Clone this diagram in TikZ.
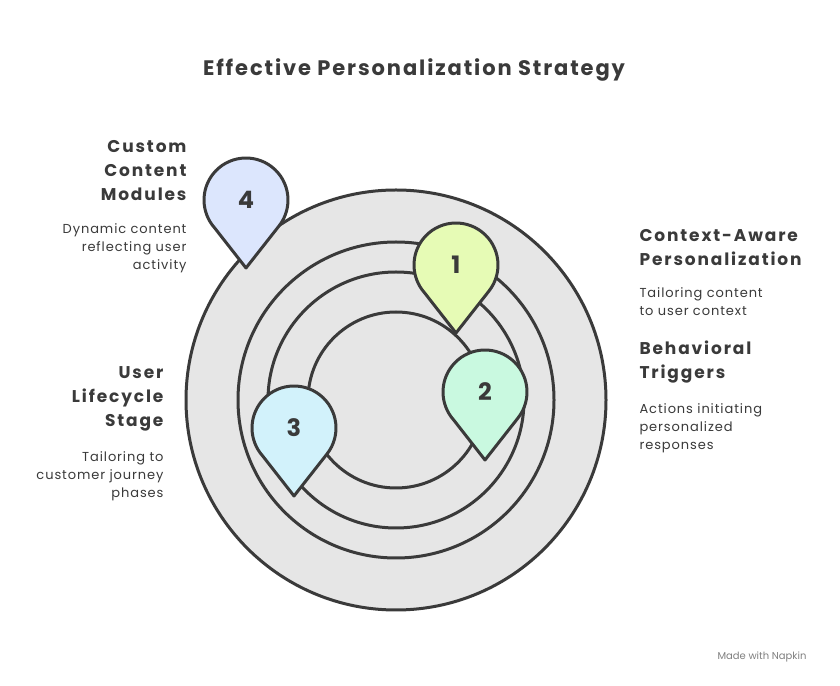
\documentclass[tikz,border=0pt]{standalone}
\usepackage{fontspec}
\setmainfont{Poppins}
\newfontfamily\titlefont[LetterSpace=9]{Poppins}
\newfontfamily\headfont[LetterSpace=11]{Poppins}
\newfontfamily\descfont[LetterSpace=7]{Poppins}
\usetikzlibrary{calc}
\definecolor{ink}{HTML}{3A3A3A}
\definecolor{ringgray}{HTML}{E6E6E6}
\definecolor{pinA}{HTML}{E6FBB5}
\definecolor{pinB}{HTML}{C9F9E0}
\definecolor{pinC}{HTML}{D2F2FB}
\definecolor{pinD}{HTML}{DCE6FD}
\tikzset{
  ringline/.style={draw=ink,line width=3pt},
  head/.style={font=\headfont\fontsize{17}{24}\selectfont\bfseries,text=ink},
  desc/.style={font=\descfont\fontsize{13}{18}\selectfont,text=ink},
  pinnum/.style={font=\fontsize{24}{24}\selectfont\bfseries,text=ink}
}
\newcommand{\mypin}[4]{% x, y, color, number
  \draw[ink,line width=3pt,fill=#3,line join=round] (#1,#2-68) -- ($(#1,#2)+(-38.2:42)$) arc[start angle=-38.2,end angle=221.8,radius=42] -- cycle;
  \node[pinnum] (pin#4) at (#1,#2) {#4};
}
\begin{document}
\begin{tikzpicture}[x=1pt,y=1pt]
\useasboundingbox (0,0) rectangle (840,685);
\fill[white] (0,0) rectangle (840,685);
\node[font=\titlefont\fontsize{21}{24}\selectfont\bfseries,text=ink] (title) at (414,615) {Effective Personalization Strategy};
\coordinate (c) at (396,285);
\fill[ringgray] (c) circle[radius=210];
\draw[ringline] (c) circle[radius=210];
\draw[ringline] (c) circle[radius=158];
\draw[ringline] (c) circle[radius=128];
\draw[ringline] (c) circle[radius=88];
\mypin{246}{485}{pinD}{4}
\mypin{456}{420}{pinA}{1}
\mypin{485}{293}{pinB}{2}
\mypin{294}{257}{pinC}{3}
\node[head,align=right,anchor=east] (h4) at (190,514) {Custom\\Content\\Modules};
\node[desc,align=right,anchor=east] (d4) at (190,437) {Dynamic content\\reflecting user\\activity};
\node[head,align=left,anchor=west] (h1) at (636,437) {Context-Aware\\Personalization};
\node[desc,align=left,anchor=west] (d1) at (636,383) {Tailoring content\\to user context};
\node[head,align=left,anchor=west] (h2) at (636,323) {Behavioral\\Triggers};
\node[desc,align=left,anchor=west] (d2) at (636,257) {Actions initiating\\personalized\\responses};
\node[head,align=right,anchor=east] (h3) at (167,286) {User\\Lifecycle\\Stage};
\node[desc,align=right,anchor=east] (d3) at (167,209) {Tailoring to\\customer journey\\phases};
\node[font=\fontsize{10}{12}\selectfont,text=gray] (foot) at (762,28) {Made with Napkin};
\end{tikzpicture}
\end{document}
